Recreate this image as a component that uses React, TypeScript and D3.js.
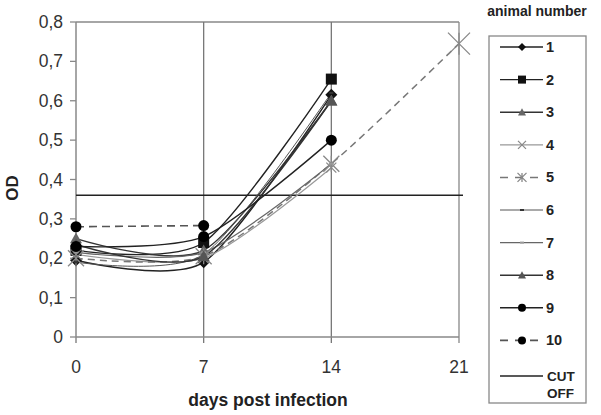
import React from "react";
import * as d3 from "d3";

const days = [0, 7, 14, 21];
const yTicks = [0, 0.1, 0.2, 0.3, 0.4, 0.5, 0.6, 0.7, 0.8];
const s1 = [0.195, 0.19, 0.615];
const s2 = [0.22, 0.24, 0.655];
const s3 = [0.25, 0.22, 0.60];
const s4 = [0.21, 0.20, 0.43];
const s5 = [0.20, 0.205, 0.44, 0.745];
const s6 = [0.19, 0.21, 0.62];
const s7 = [0.215, 0.215, 0.44];
const s8 = [0.235, 0.205, 0.60];
const s9 = [0.23, 0.255, 0.50];
const s10 = [0.28, 0.283];
const cutOff = 0.36;
const legendLabels = ["1", "2", "3", "4", "5", "6", "7", "8", "9", "10"];

type Marker = "diamond" | "square" | "triangle" | "x" | "star" | "dash" | "circle";
const seriesDefs: { vals: number[]; color: string; width: number; dash?: string; marker: Marker; mColor: string; mSize: number }[] = [
  { vals: s1, color: "#222", width: 1.4, marker: "diamond", mColor: "#111", mSize: 12 },
  { vals: s2, color: "#222", width: 1.4, marker: "square", mColor: "#111", mSize: 11 },
  { vals: s3, color: "#333", width: 1.4, marker: "triangle", mColor: "#666", mSize: 12 },
  { vals: s4, color: "#999", width: 1.2, marker: "x", mColor: "#888", mSize: 10 },
  { vals: s5, color: "#777", width: 1.5, dash: "7,5", marker: "star", mColor: "#888", mSize: 16 },
  { vals: s6, color: "#555", width: 1, marker: "dash", mColor: "#333", mSize: 4 },
  { vals: s7, color: "#666", width: 1.2, marker: "dash", mColor: "#999", mSize: 5 },
  { vals: s8, color: "#333", width: 1.4, marker: "triangle", mColor: "#555", mSize: 12 },
  { vals: s9, color: "#222", width: 1.4, marker: "circle", mColor: "#000", mSize: 11 },
  { vals: s10, color: "#555", width: 1.6, dash: "8,5", marker: "circle", mColor: "#000", mSize: 11 },
];

function MarkerShape({ type, x, y, size, color }: { type: Marker; x: number; y: number; size: number; color: string }) {
  const h = size / 2;
  switch (type) {
    case "diamond":
      return <path d={`M${x},${y - h}L${x + h},${y}L${x},${y + h}L${x - h},${y}Z`} fill={color} />;
    case "square":
      return <rect x={x - h} y={y - h} width={size} height={size} fill={color} />;
    case "triangle":
      return <path d={`M${x},${y - h}L${x + h},${y + h * 0.8}L${x - h},${y + h * 0.8}Z`} fill={color} />;
    case "circle":
      return <circle cx={x} cy={y} r={h} fill={color} />;
    case "x":
      return <path d={`M${x - h},${y - h}L${x + h},${y + h}M${x - h},${y + h}L${x + h},${y - h}`} stroke={color} strokeWidth={1.2} />;
    case "star":
      return <path d={`M${x - h},${y - h}L${x + h},${y + h}M${x - h},${y + h}L${x + h},${y - h}M${x},${y - h}L${x},${y + h}`} stroke={color} strokeWidth={1.3} />;
    case "dash":
      return <path d={`M${x - h},${y}L${x + h},${y}`} stroke={color} strokeWidth={2} />;
  }
}

export default function App() {
  const x = d3.scaleLinear().domain([0, 21]).range([76, 459]);
  const y = d3.scaleLinear().domain([0, 0.8]).range([337, 22]);
  const line = d3
    .line<[number, number]>()
    .x((d) => x(d[0]))
    .y((d) => y(d[1]))
    .curve(d3.curveCardinal.tension(0.25));
  const font = "Liberation Sans, Arial, sans-serif";
  const legendY = (i: number) => 47 + i * 32.6;

  return (
    <svg width={601} height={415} style={{ position: "absolute", left: 0, top: 0 }} fontFamily={font}>
      <rect width={601} height={415} fill="#fff" />
      <line x1={x(0)} x2={x(21)} y1={y(0.8)} y2={y(0.8)} stroke="#888" strokeWidth={1.3} />
      {[7, 14, 21].map((d) => (
        <line key={d} x1={x(d)} x2={x(d)} y1={y(0.8)} y2={y(0) + 6} stroke={d === 21 ? "#888" : "#777"} strokeWidth={1.3} />
      ))}
      <line x1={x(0)} x2={x(0)} y1={y(0.8)} y2={y(0) + 6} stroke="#888" strokeWidth={1.5} />
      <line x1={x(0)} x2={x(21)} y1={y(0)} y2={y(0)} stroke="#888" strokeWidth={1.5} />
      {yTicks.map((t) => (
        <g key={t}>
          <line x1={x(0) - 6} x2={x(0)} y1={y(t)} y2={y(t)} stroke="#888" strokeWidth={1.3} />
          <text x={x(0) - 13} y={y(t) + 6} textAnchor="end" fontSize={17.5} fill="#333">
            {String(t).replace(".", ",")}
          </text>
        </g>
      ))}
      {days.map((d) => (
        <text key={d} x={x(d)} y={y(0) + 36} textAnchor="middle" fontSize={17.5} fill="#333">
          {d}
        </text>
      ))}
      <text x={268} y={406} textAnchor="middle" fontSize={17.5} fontWeight="bold" fill="#222">
        days post infection
      </text>
      <text transform="translate(18,188) rotate(-90)" textAnchor="middle" fontSize={17} fontWeight="bold" fill="#222">
        OD
      </text>
      <line x1={x(0)} x2={463} y1={y(cutOff)} y2={y(cutOff)} stroke="#222" strokeWidth={1.5} />
      {seriesDefs.map((s, i) => {
        const pts = s.vals.map((v, j) => [days[j], v] as [number, number]);
        return (
          <path key={i} d={line(pts) || ""} fill="none" stroke={s.color} strokeWidth={s.width} strokeDasharray={s.dash} />
        );
      })}
      {seriesDefs.map((s, i) => (
        <g key={i}>
          {s.vals.map((v, j) => (
            <MarkerShape key={j} type={s.marker} x={x(days[j])} y={y(v)} size={s.marker === "star" && j === 3 ? 22 : s.mSize} color={s.mColor} />
          ))}
        </g>
      ))}
      <text x={537} y={16} textAnchor="middle" fontSize={14} fontWeight="bold" fill="#222">
        animal number
      </text>
      <rect x={489} y={36} width={97} height={367} fill="#fff" stroke="#888" strokeWidth={1.3} />
      {seriesDefs.map((s, i) => (
        <g key={i}>
          <line x1={500} x2={543} y1={legendY(i)} y2={legendY(i)} stroke={s.color} strokeWidth={s.width} strokeDasharray={s.dash ? "8,7" : undefined} />
          <MarkerShape type={s.marker} x={522} y={legendY(i)} size={s.marker === "dash" ? 4 : s.marker === "star" ? 9 : 8} color={s.mColor} />
          <text x={546} y={legendY(i) + 5} fontSize={14.5} fontWeight="bold" fill="#222">
            {legendLabels[i]}
          </text>
        </g>
      ))}
      <line x1={500} x2={543} y1={376} y2={376} stroke="#222" strokeWidth={1.5} />
      <text x={547} y={381} fontSize={13.5} fontWeight="bold" fill="#222">CUT</text>
      <text x={547} y={398} fontSize={13.5} fontWeight="bold" fill="#222">OFF</text>
    </svg>
  );
}
